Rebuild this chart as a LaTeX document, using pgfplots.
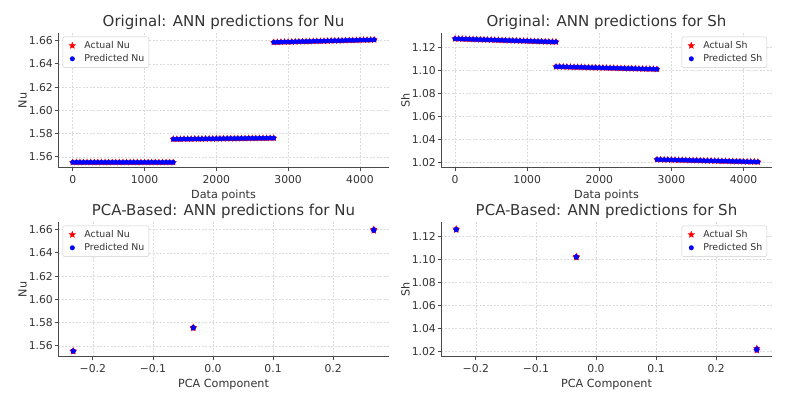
\documentclass[border=0pt]{standalone}
\usepackage{fontspec}
\setmainfont{DejaVu Sans}
\usepackage{pgfplots}
\usepackage{pgfplotstable}
\pgfplotsset{compat=1.18}

\definecolor{spine}{HTML}{4A4A4A}
\definecolor{txt}{HTML}{333333}

% filled five-pointed star, like matplotlib's '*'
\pgfdeclareplotmark{fstar}{%
  \pgfpathmoveto{\pgfpointpolar{90}{\pgfplotmarksize}}%
  \pgfpathlineto{\pgfpointpolar{126}{0.45\pgfplotmarksize}}%
  \pgfpathlineto{\pgfpointpolar{162}{\pgfplotmarksize}}%
  \pgfpathlineto{\pgfpointpolar{198}{0.45\pgfplotmarksize}}%
  \pgfpathlineto{\pgfpointpolar{234}{\pgfplotmarksize}}%
  \pgfpathlineto{\pgfpointpolar{270}{0.45\pgfplotmarksize}}%
  \pgfpathlineto{\pgfpointpolar{306}{\pgfplotmarksize}}%
  \pgfpathlineto{\pgfpointpolar{342}{0.45\pgfplotmarksize}}%
  \pgfpathlineto{\pgfpointpolar{18}{\pgfplotmarksize}}%
  \pgfpathlineto{\pgfpointpolar{54}{0.45\pgfplotmarksize}}%
  \pgfpathclose
  \pgfusepathqfillstroke
}

% data points: index, Nu actual/predicted, Sh actual/predicted
\pgfplotstableread{
x     nuA     nuP     shA     shP
0     1.5552  1.5552  1.1276  1.1276
50    1.5552  1.5552  1.1275  1.1275
100   1.5552  1.5552  1.1274  1.1274
150   1.5552  1.5552  1.1273  1.1273
200   1.5552  1.5552  1.1272  1.1272
250   1.5552  1.5552  1.1271  1.1271
300   1.5552  1.5552  1.1270  1.1270
350   1.5552  1.5552  1.1269  1.1269
400   1.5552  1.5552  1.1268  1.1268
450   1.5552  1.5552  1.1267  1.1267
500   1.5552  1.5552  1.1266  1.1266
550   1.5552  1.5552  1.1265  1.1265
600   1.5552  1.5552  1.1264  1.1264
650   1.5552  1.5552  1.1263  1.1263
700   1.5552  1.5552  1.1262  1.1262
750   1.5552  1.5552  1.1261  1.1261
800   1.5552  1.5552  1.1260  1.1260
850   1.5552  1.5552  1.1259  1.1259
900   1.5552  1.5552  1.1258  1.1258
950   1.5552  1.5552  1.1257  1.1257
1000  1.5552  1.5552  1.1256  1.1256
1050  1.5552  1.5552  1.1255  1.1255
1100  1.5552  1.5552  1.1254  1.1254
1150  1.5552  1.5552  1.1253  1.1253
1200  1.5552  1.5552  1.1252  1.1252
1250  1.5552  1.5552  1.1251  1.1251
1300  1.5552  1.5552  1.1250  1.1250
1350  1.5552  1.5552  1.1249  1.1249
1399  1.5552  1.5552  1.1249  1.1249
1400  1.5752  1.5752  1.1033  1.1033
1450  1.5752  1.5752  1.1033  1.1033
1500  1.5752  1.5752  1.1032  1.1032
1550  1.5753  1.5753  1.1031  1.1031
1600  1.5753  1.5753  1.1030  1.1030
1650  1.5753  1.5753  1.1029  1.1029
1700  1.5754  1.5754  1.1029  1.1029
1750  1.5754  1.5754  1.1028  1.1028
1800  1.5754  1.5754  1.1027  1.1027
1850  1.5755  1.5755  1.1026  1.1026
1900  1.5755  1.5755  1.1025  1.1025
1950  1.5755  1.5755  1.1025  1.1025
2000  1.5756  1.5756  1.1024  1.1024
2050  1.5756  1.5756  1.1023  1.1023
2100  1.5756  1.5756  1.1022  1.1022
2150  1.5757  1.5757  1.1021  1.1021
2200  1.5757  1.5757  1.1021  1.1021
2250  1.5757  1.5757  1.1020  1.1020
2300  1.5758  1.5758  1.1019  1.1019
2350  1.5758  1.5758  1.1018  1.1018
2400  1.5758  1.5758  1.1017  1.1017
2450  1.5759  1.5759  1.1017  1.1017
2500  1.5759  1.5759  1.1016  1.1016
2550  1.5759  1.5759  1.1015  1.1015
2600  1.5760  1.5760  1.1014  1.1014
2650  1.5760  1.5760  1.1013  1.1013
2700  1.5760  1.5760  1.1013  1.1013
2750  1.5761  1.5761  1.1012  1.1012
2799  1.5761  1.5761  1.1011  1.1011
2800  1.6586  1.6586  1.0225  1.0225
2850  1.6587  1.6587  1.0224  1.0224
2900  1.6588  1.6588  1.0223  1.0223
2950  1.6589  1.6589  1.0223  1.0223
3000  1.6589  1.6589  1.0222  1.0222
3050  1.6590  1.6590  1.0221  1.0221
3100  1.6591  1.6591  1.0220  1.0220
3150  1.6592  1.6592  1.0220  1.0220
3200  1.6593  1.6593  1.0219  1.0219
3250  1.6593  1.6593  1.0218  1.0218
3300  1.6594  1.6594  1.0217  1.0217
3350  1.6595  1.6595  1.0217  1.0217
3400  1.6596  1.6596  1.0216  1.0216
3450  1.6596  1.6596  1.0215  1.0215
3500  1.6597  1.6597  1.0214  1.0214
3550  1.6598  1.6598  1.0214  1.0214
3600  1.6599  1.6599  1.0213  1.0213
3650  1.6600  1.6600  1.0212  1.0212
3700  1.6600  1.6600  1.0211  1.0211
3750  1.6601  1.6601  1.0211  1.0211
3800  1.6602  1.6602  1.0210  1.0210
3850  1.6603  1.6603  1.0209  1.0209
3900  1.6603  1.6603  1.0208  1.0208
3950  1.6604  1.6604  1.0208  1.0208
4000  1.6605  1.6605  1.0207  1.0207
4050  1.6606  1.6606  1.0206  1.0206
4100  1.6606  1.6606  1.0205  1.0205
4150  1.6607  1.6607  1.0205  1.0205
4199  1.6608  1.6608  1.0204  1.0204
}\datamain

% PCA-based: one component per group
\pgfplotstableread{
pc       nuA     nuP     shA     shP
-0.2327  1.5552  1.5553  1.1265  1.1262
-0.2327  1.5556  1.5555  1.1258  1.1259
-0.0328  1.5752  1.5753  1.1026  1.1024
-0.0328  1.5758  1.5757  1.1018  1.1020
0.2677   1.6592  1.6593  1.0225  1.0222
0.2677   1.6603  1.6600  1.0209  1.0212
}\datapca

\pgfplotsset{
  anntheme/.style={
    scale only axis, width=331pt, height=135pt, anchor=south west,
    axis lines=left, axis line style={-, spine, line width=1pt},
    tick align=outside, major tick length=3.5pt,
    tick style={spine, line width=0.8pt},
    grid=major, grid style={dash pattern=on 2pt off 1.5pt, black!14, line width=0.45pt},
    tick label style={font=\fontsize{10.8}{13}\selectfont, text=txt},
    yticklabel style={inner xsep=1.5pt},
    label style={font=\fontsize{11.2}{13}\selectfont, text=txt},
    ylabel shift=-3pt,
    title style={font=\fontsize{15}{18}\selectfont, text=txt, yshift=-6pt},
    /pgf/number format/assume math mode=true,
    /pgf/number format/1000 sep={},
    yticklabel style={/pgf/number format/.cd, fixed, fixed zerofill, precision=2},
    legend style={draw=black!20, rounded corners=2pt, fill=white,
      font=\fontsize{9.4}{11}\selectfont, text=txt, inner sep=2.5pt, row sep=0.5pt},
    legend cell align=left,
    legend image code/.code={%
      \path[draw=none, fill=none] (0pt,-2pt) rectangle (17pt,2pt);
      \draw[##1] plot coordinates {(7pt,0pt)};},
  },
  idxaxis/.style={xtick={0,1000,2000,3000,4000}, xlabel={Data points}},
  pcaaxis/.style={xmin=-0.258, xmax=0.293, xtick={-0.2,-0.1,0,0.1,0.2},
    xticklabels={−0.2,−0.1,0.0,0.1,0.2}, xlabel={PCA Component}},
  nuaxis/.style={ymin=1.5503, ymax=1.6666, ytick={1.56,1.58,1.60,1.62,1.64,1.66}, ylabel={Nu},
    legend style={at={(0.014,0.973)}, anchor=north west}},
  shaxis/.style={ymin=1.0151, ymax=1.1326, ytick={1.02,1.04,1.06,1.08,1.10,1.12}, ylabel={Sh},
    legend style={at={(0.985,0.973)}, anchor=north east}},
  actual/.style={only marks, mark=fstar, mark size=3.4pt, draw=red, fill=red, line width=0.3pt},
  pred/.style={only marks, mark=*, mark size=2.3pt, draw=blue, fill=blue, line width=0.3pt},
}

\begin{document}
\begin{tikzpicture}
\useasboundingbox (0,0) rectangle (797pt,395pt);

\begin{axis}[anntheme, idxaxis, nuaxis, at={(58pt,227pt)}, xmin=-205, xmax=4405,
  title={Original: ANN predictions for Nu}]
  \addplot[actual] table[x=x, y=nuA] {\datamain};
  \addplot[pred] table[x=x, y=nuP] {\datamain};
  \legend{Actual Nu, Predicted Nu}
\end{axis}

\begin{axis}[anntheme, idxaxis, shaxis, at={(441pt,227pt)}, xmin=-195, xmax=4395,
  title={Original: ANN predictions for Sh}]
  \addplot[actual] table[x=x, y=shA] {\datamain};
  \addplot[pred] table[x=x, y=shP] {\datamain};
  \legend{Actual Sh, Predicted Sh}
\end{axis}

\begin{axis}[anntheme, pcaaxis, nuaxis, at={(58pt,38pt)},
  title={PCA-Based: ANN predictions for Nu}]
  \addplot[actual] table[x=pc, y=nuA] {\datapca};
  \addplot[pred] table[x=pc, y=nuP] {\datapca};
  \legend{Actual Nu, Predicted Nu}
\end{axis}

\begin{axis}[anntheme, pcaaxis, shaxis, at={(441pt,38pt)},
  title={PCA-Based: ANN predictions for Sh}]
  \addplot[actual] table[x=pc, y=shA] {\datapca};
  \addplot[pred] table[x=pc, y=shP] {\datapca};
  \legend{Actual Sh, Predicted Sh}
\end{axis}
\end{tikzpicture}
\end{document}
